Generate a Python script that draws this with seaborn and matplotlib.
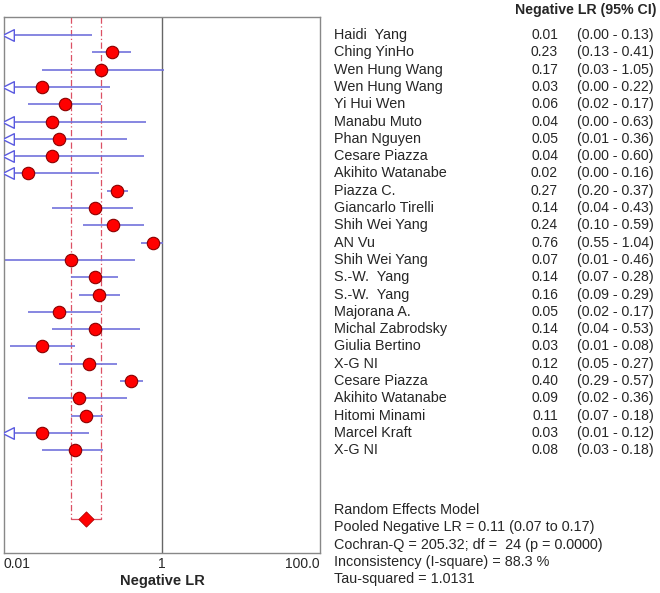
import numpy as np
import pandas as pd
import matplotlib
matplotlib.use("Agg")
import matplotlib.pyplot as plt
import matplotlib.transforms as mtransforms
import seaborn as sns

studies = ["Haidi  Yang", "Ching YinHo", "Wen Hung Wang", "Wen Hung Wang", "Yi Hui Wen",
           "Manabu Muto", "Phan Nguyen", "Cesare Piazza", "Akihito Watanabe", "Piazza C.",
           "Giancarlo Tirelli", "Shih Wei Yang", "AN Vu", "Shih Wei Yang", "S.-W.  Yang",
           "S.-W.  Yang", "Majorana A.", "Michal Zabrodsky", "Giulia Bertino", "X-G NI",
           "Cesare Piazza", "Akihito Watanabe", "Hitomi Minami", "Marcel Kraft", "X-G NI"]
estimate = [0.0099, 0.23, 0.17, 0.03, 0.06, 0.04, 0.05, 0.04, 0.02, 0.27,
            0.14, 0.24, 0.76, 0.07, 0.14, 0.16, 0.05, 0.14, 0.03, 0.12,
            0.40, 0.09, 0.11, 0.03, 0.08]
lower = [0.001, 0.13, 0.03, 0.001, 0.02, 0.001, 0.008, 0.001, 0.001, 0.20,
         0.04, 0.10, 0.55, 0.0102, 0.07, 0.09, 0.02, 0.04, 0.012, 0.05,
         0.29, 0.02, 0.07, 0.009, 0.03]
upper = [0.13, 0.41, 1.05, 0.22, 0.17, 0.63, 0.36, 0.60, 0.16, 0.37,
         0.43, 0.59, 1.04, 0.46, 0.28, 0.29, 0.17, 0.53, 0.08, 0.27,
         0.57, 0.36, 0.18, 0.12, 0.18]
pooled = [0.11, 0.07, 0.17]
summary_lines = ["Random Effects Model",
                 "Pooled Negative LR = 0.11 (0.07 to 0.17)",
                 "Cochran-Q = 205.32; df =  24 (p = 0.0000)",
                 "Inconsistency (I-square) = 88.3 %",
                 "Tau-squared = 1.0131"]
xticks = [0.01, 1, 100]
xticklabels = ["0.01", "1", "100.0"]

df = pd.DataFrame({"study": studies, "est": estimate, "lo": lower, "hi": upper})
df["row"] = np.arange(len(df))

sns.set_style("white")
plt.rcParams["font.family"] = ["Liberation Sans", "DejaVu Sans"]

W, H = 660, 593
fig = plt.figure(figsize=(W / 100, H / 100), dpi=100)
x0, x1, y0, y1 = 4, 320, 17, 553
ax = fig.add_axes([x0 / W, 1 - y1 / H, (x1 - x0) / W, (y1 - y0) / H])
xmin, xmax = 0.01, 100
ax.set_xscale("log")
ax.set_xlim(xmin, xmax)
row_px = 17.3
ymin = -(35 - y0) / row_px
ymax = ymin + (y1 - y0) / row_px
ax.set_ylim(ymax, ymin)

line_col = "#7272dc"
# CI lines
for _, r in df.iterrows():
    lo = max(r.lo, xmin)
    hi = min(r.hi, xmax)
    ax.plot([lo, hi], [r.row, r.row], color=line_col, lw=1.2, zorder=2,
            solid_capstyle="butt")

# open arrow heads where CI goes below axis
arrow_x = 10 ** (np.log10(xmin) + 3.6 / ((x1 - x0) / 4))
arr = df[df.lo < xmin]
ax.scatter(arr["lo"] * 0 + arrow_x, arr["row"], marker="<", s=70, facecolor="white",
           edgecolor="#5a5ae0", linewidth=1.0, zorder=3)

# pooled dashed lines
prow = len(df) + 3
for v in pooled[1:]:
    ax.plot([v, v], [ymin, prow], color="#dc5064", lw=0.9, ls=(0, (5, 2, 1, 2)), zorder=1)
ax.plot([pooled[1], pooled[2]], [prow, prow], color="#dc5064", lw=0.9, zorder=1)

# points
pts = df[df.est > xmin]
sns.scatterplot(data=pts, x="est", y="row", ax=ax, s=80, color="#ff0000",
                edgecolor="#8a0000", linewidth=0.8, zorder=4, legend=False)
ax.scatter([pooled[0]], [prow], marker="D", s=60, color="#ff0000",
           edgecolor="#b00000", linewidth=0.6, zorder=4)

ax.axvline(1, color="#666666", lw=1.0, zorder=1)
for s in ax.spines.values():
    s.set_color("#888888")
    s.set_linewidth(1.0)

ax.set_yticks([])
ax.set_xticks(xticks)
ax.set_xticklabels(xticklabels, fontsize=10)
ax.minorticks_off()
ax.tick_params(axis="x", length=0, pad=3)
labs = ax.get_xticklabels()
labs[0].set_horizontalalignment("left")
labs[-1].set_horizontalalignment("right")
ax.set_xlabel("Negative LR", fontsize=10.5, fontweight="bold", labelpad=2)
ax.set_ylabel("")

# right-hand text columns
fs = 10.4
tr = mtransforms.blended_transform_factory(fig.transFigure, ax.transData)
for _, r in df.iterrows():
    ax.text(334 / W, r.row, r.study, transform=tr, fontsize=fs, va="center",
            ha="left", clip_on=False)
    ax.text(558 / W, r.row, f"{r.est:.2f}", transform=tr, fontsize=10, va="center",
            ha="right", clip_on=False)
    ax.text(577 / W, r.row, f"({r.lo:.2f} - {r.hi:.2f})", transform=tr, fontsize=10.2,
            va="center", ha="left", clip_on=False)

fig.text(515 / W, 1 - 10 / H, "Negative LR (95% CI)", fontsize=10.2,
         fontweight="bold", va="center", ha="left")

for i, t in enumerate(summary_lines):
    fig.text(334 / W, 1 - (510 + i * 17.3) / H, t, fontsize=fs, va="center", ha="left")

fig.savefig("out.png", dpi=100)
